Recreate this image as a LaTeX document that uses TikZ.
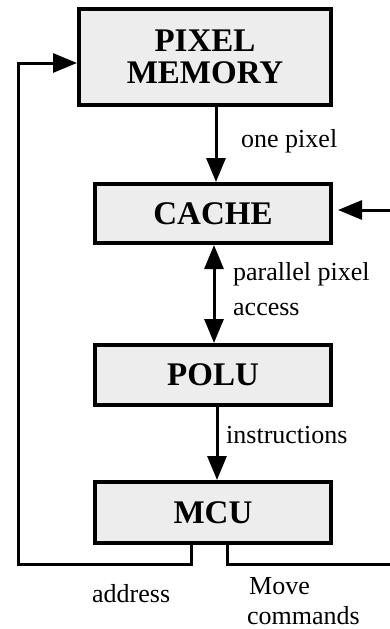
\documentclass[tikz,border=0pt]{standalone}
\usepackage{fontspec}
\setmainfont{Liberation Serif}
\usetikzlibrary{arrows.meta}
\begin{document}
\begin{tikzpicture}[x=1pt,y=-1pt,
  unit/.style={draw, line width=4pt, fill=black!7, rectangle, inner sep=0pt,
    font=\fontsize{33}{32}\selectfont\bfseries, align=center},
  wire/.style={line width=3pt},
  arr/.style={wire, -{Triangle[length=24pt,width=19pt]}},
  darr/.style={wire, {Triangle[length=24pt,width=19pt]}-{Triangle[length=24pt,width=19pt]}},
  lbl/.style={font=\fontsize{26}{35}\selectfont, inner sep=0pt, align=left}]
\useasboundingbox (0,0) rectangle (390,629);

% functional units
\node[unit, minimum width=252pt, minimum height=96pt] (pm) at (205,57) {PIXEL\\MEMORY};
\node[unit, minimum width=236pt, minimum height=59pt] (cache) at (213,213.5) {CACHE};
\node[unit, minimum width=236pt, minimum height=60pt] (polu) at (213,375) {POLU};
\node[unit, minimum width=236pt, minimum height=61pt] (mcu) at (213,512.5) {MCU};

% helper coordinates for the bus routes
\coordinate (c1) at (216,0);
\coordinate (c2) at (214,0);
\coordinate (c3) at (217,0);
\coordinate (addr) at (191,0);
\coordinate (mov) at (227,0);
\coordinate (lx) at (18,564);
\coordinate (ly) at (18,63);
\coordinate (rin) at (390,210);
\coordinate (rout) at (390,564);

% data paths
\draw[arr] (pm.south -| c1) -- (cache.north -| c1);
\draw[darr] (cache.south -| c2) -- (polu.north -| c2);
\draw[arr] (polu.south -| c3) -- (mcu.north -| c3);

% address feedback loop to the pixel memory
\draw[arr] (mcu.south -| addr) |- (lx) -- (ly) -- (pm.west |- ly);

% external input into the cache
\draw[arr, shorten >=5pt] (rin) -- (cache.east |- rin);

% move commands leaving the MCU
\draw[wire] (mcu.south -| mov) |- (rout);

% labels
\node[lbl, anchor=base west] (l1) at (241,147) {one pixel};
\node[lbl, anchor=base west] (l2) at (233,280) {parallel pixel};
\node[lbl, anchor=base west] (l3) at (233,315) {access};
\node[lbl, anchor=base west] (l4) at (226,443) {instructions};
\node[lbl, anchor=base west] (l5) at (92,602) {address};
\node[lbl, anchor=base west] (l6) at (249,594) {Move};
\node[lbl, anchor=base west] (l7) at (247,624) {commands};
\end{tikzpicture}
\end{document}
